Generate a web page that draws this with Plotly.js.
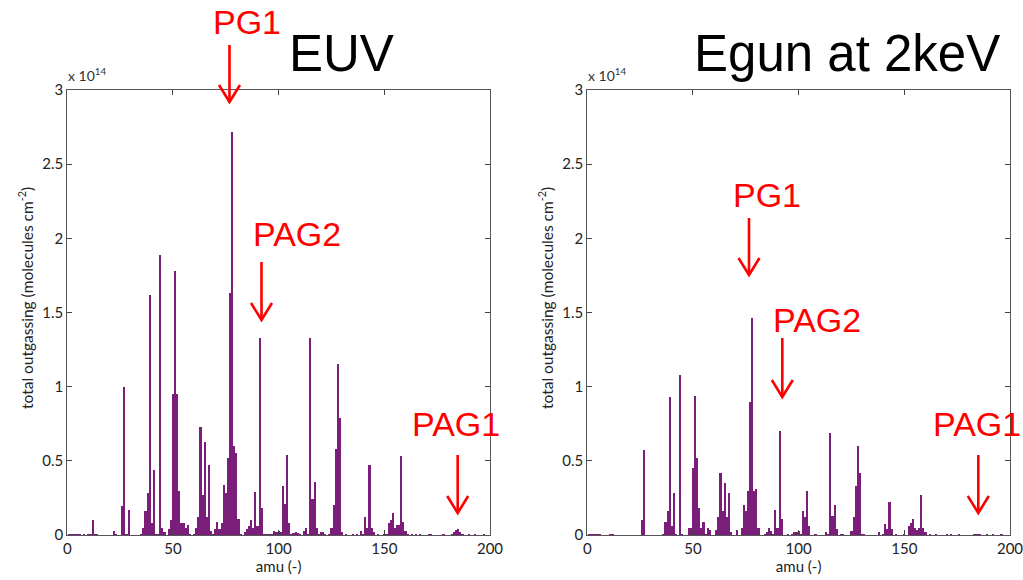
<!DOCTYPE html>
<html>
<head>
<meta charset="utf-8">
<script src="https://cdn.plot.ly/plotly-3.0.1.min.js"></script>
<style>html,body{margin:0;padding:0;background:#fff;}#chart{width:1023px;height:580px;}</style>
</head>
<body>
<div id="chart"></div>
<script>
// Values in units of 1e14 molecules cm^-2
const euvAmu = [1,2,3,4,5,6,8,10,11,12,13,14,22,23,26,27,28,29,35,36,37,38,39,40,41,42,43,44,45,46,48,49,50,51,52,53,54,55,56,57,58,60,61,62,63,64,65,66,67,68,69,70,71,72,73,74,75,76,77,78,79,80,81,82,84,85,86,87,88,89,90,91,92,93,94,95,96,97,98,99,100,101,102,103,104,105,106,107,108,109,110,112,113,114,115,116,117,118,119,120,121,122,124,125,126,127,128,129,130,132,135,137,139,140,141,142,143,144,145,147,150,151,152,153,154,155,156,157,158,159,160,161,163,165,167,171,172,178,182,183,184,185,186,187,190,193,197];
const euvVal = [0.006,0.008,0.005,0.006,0.004,0.005,0.004,0.005,0.005,0.10,0.005,0.006,0.027,0.01,0.195,1.00,0.01,0.17,0.01,0.045,0.16,0.28,1.62,0.08,0.44,0.01,0.005,1.89,0.05,0.02,0.04,0.10,0.95,1.78,0.95,0.30,0.08,0.08,0.045,0.07,0.01,0.01,0.05,0.12,0.73,0.27,0.63,0.12,0.47,0.03,0.01,0.04,0.09,0.04,0.08,0.34,0.28,0.52,1.63,2.72,0.60,0.55,0.11,0.01,0.02,0.04,0.06,0.10,0.05,0.29,0.06,1.33,0.18,0.01,0.005,0.008,0.01,0.005,0.03,0.02,0.03,0.02,0.33,0.21,0.54,0.08,0.01,0.015,0.02,0.015,0.01,0.03,0.045,0.01,1.33,0.24,0.36,0.045,0.01,0.02,0.02,0.01,0.01,0.05,0.20,0.58,1.15,0.79,0.02,0.005,0.005,0.01,0.03,0.01,0.12,0.05,0.47,0.05,0.02,0.005,0.01,0.01,0.08,0.10,0.15,0.05,0.07,0.07,0.53,0.09,0.03,0.01,0.01,0.005,0.005,0.01,0.005,0.005,0.01,0.02,0.035,0.04,0.02,0.01,0.005,0.005,0.005];

const egunAmu = [1,2,3,4,5,6,7,11,12,26,27,36,37,38,39,40,41,42,44,45,48,49,50,51,52,53,54,55,56,57,58,61,62,63,64,65,66,67,68,71,73,74,75,76,77,78,79,80,81,84,85,86,87,88,89,90,91,92,95,97,98,99,100,101,102,103,104,105,108,113,114,115,116,117,118,120,121,125,126,127,128,129,130,131,138,140,141,142,143,144,146,150,152,153,154,155,156,157,158,159,160,162,165,170,172,176,183,184,185,186,189,192,196];
const egunVal = [0.005,0.006,0.005,0.005,0.004,0.004,0.003,0.004,0.01,0.10,0.57,0.005,0.09,0.16,0.93,0.06,0.28,0.01,1.08,0.01,0.05,0.05,0.45,0.94,0.52,0.18,0.045,0.09,0.01,0.05,0.035,0.035,0.12,0.42,0.16,0.35,0.12,0.28,0.02,0.035,0.045,0.20,0.16,0.30,0.90,1.46,0.30,0.31,0.05,0.01,0.02,0.05,0.03,0.01,0.17,0.05,0.70,0.11,0.005,0.01,0.02,0.02,0.03,0.01,0.16,0.12,0.30,0.06,0.01,0.02,0.005,0.69,0.13,0.20,0.04,0.01,0.01,0.03,0.12,0.33,0.60,0.42,0.01,0.01,0.02,0.005,0.075,0.04,0.22,0.04,0.01,0.005,0.06,0.08,0.11,0.05,0.035,0.045,0.27,0.045,0.02,0.005,0.005,0.005,0.005,0.005,0.01,0.01,0.01,0.008,0.005,0.005,0.005];

const yTicks = [0,0.5,1,1.5,2,2.5,3];
const yTickText = ['0','0.5','1','1.5','2','2.5','3'];
const xTicks = [0,50,100,150,200];
const panelTitles = ['EUV','Egun at 2keV'];
const yTitle = 'total outgassing (molecules cm<sup>-2</sup>)';
const xTitle = 'amu (-)';
const scaleLabel = 'x 10<sup>14</sup>';

const W = 1023, H = 580;
const px = v => v / W;
const py = v => 1 - v / H;

const barColor = '#7b1e79';
const traces = [
  {type:'bar', x: euvAmu, y: euvVal, width: 1.0, marker:{color: barColor, line:{width:0}}, xaxis:'x', yaxis:'y', hoverinfo:'skip'},
  {type:'bar', x: egunAmu, y: egunVal, width: 1.0, marker:{color: barColor, line:{width:0}}, xaxis:'x2', yaxis:'y2', hoverinfo:'skip'}
];

const axFont = {family:'Lato, "Open Sans", sans-serif', size:15, color:'#222'};
function xAx(dom, anchor){
  return {domain: dom, anchor: anchor, range:[0,200], tickvals: xTicks, ticktext: xTicks.map(String),
    ticks:'inside', ticklen:5, tickcolor:'#444', showline:true, linecolor:'#555', linewidth:1, mirror:'ticks',
    showgrid:false, zeroline:false, tickfont: axFont, ticklabeloverflow:'allow',
    title:{text: xTitle, font:{family:axFont.family, size:15, color:'#222'}, standoff: 4}};
}
function yAx(anchor){
  return {domain:[py(535), py(90)], anchor: anchor, range:[0,3], tickvals: yTicks, ticktext: yTickText,
    ticks:'inside', ticklen:5, tickcolor:'#444', showline:true, linecolor:'#555', linewidth:1, mirror:'ticks',
    showgrid:false, zeroline:false, tickfont: axFont, ticklabeloverflow:'allow'};
}

const red = '#ff0000';
const labelFont = {family:'"Liberation Sans", Arial, sans-serif', size:34, color: red};
const annotations = [];
const shapes = [];
function label(text, cx, cy, font, angle){
  annotations.push({text, x: px(cx), y: py(cy), xref:'paper', yref:'paper', xanchor:'center', yanchor:'middle', showarrow:false, font, textangle: angle || 0});
}
// arrow decoration: vertical shaft with an open V head (paper coordinates)
function arrow(x, tipY, tailY){
  const hw = 10.5, hh = 17;
  const P = (a, b) => px(a) + ',' + py(b);
  shapes.push({type:'path', xref:'paper', yref:'paper',
    path: 'M' + P(x, tailY) + ' L' + P(x, tipY - 1),
    line:{color: red, width: 2.6}});
  shapes.push({type:'path', xref:'paper', yref:'paper',
    path: 'M' + P(x - hw, tipY - hh) + ' L' + P(x, tipY) + ' L' + P(x + hw, tipY - hh),
    line:{color: red, width: 2.6}});
}
const titleFont = {family:'"Liberation Sans", Arial, sans-serif', size:51, color:'#000'};
label(panelTitles[0], 341.5, 53, titleFont);
label(panelTitles[1], 846.5, 53, titleFont);

label('PG1', 246.5, 22, labelFont);
arrow(229.5, 102, 45);
label('PAG2', 297, 234, labelFont);
arrow(261.5, 320, 262);
label('PAG1', 456, 424, labelFont);
arrow(457.7, 513, 455);

label('PG1', 767, 195, labelFont);
arrow(749, 275, 218);
label('PAG2', 817, 320, labelFont);
arrow(782.3, 397, 338);
label('PAG1', 977, 424, labelFont);
arrow(978.3, 513, 455);

const yTitleFont = {family: axFont.family, size:15.5, color:'#222'};
label(yTitle, 25, 298, yTitleFont, -90);
label(yTitle, 545, 298, yTitleFont, -90);

const scaleFont = {family: axFont.family, size:14, color:'#333'};
annotations.push({text: scaleLabel, x: px(66), y: py(86), xref:'paper', yref:'paper', xanchor:'left', yanchor:'bottom', showarrow:false, font: scaleFont});
annotations.push({text: scaleLabel, x: px(586), y: py(86), xref:'paper', yref:'paper', xanchor:'left', yanchor:'bottom', showarrow:false, font: scaleFont});

const layout = {
  width: W, height: H, margin:{l:0,r:0,t:0,b:0},
  paper_bgcolor:'#fff', plot_bgcolor:'#fff', showlegend:false,
  xaxis: xAx([px(67.3), px(490)], 'y'),
  yaxis: yAx('x'),
  xaxis2: xAx([px(587.3), px(1010)], 'y2'),
  yaxis2: yAx('x2'),
  annotations, shapes, bargap:0
};
Plotly.newPlot('chart', traces, layout, {displayModeBar:false, staticPlot:true});
</script>
</body>
</html>
